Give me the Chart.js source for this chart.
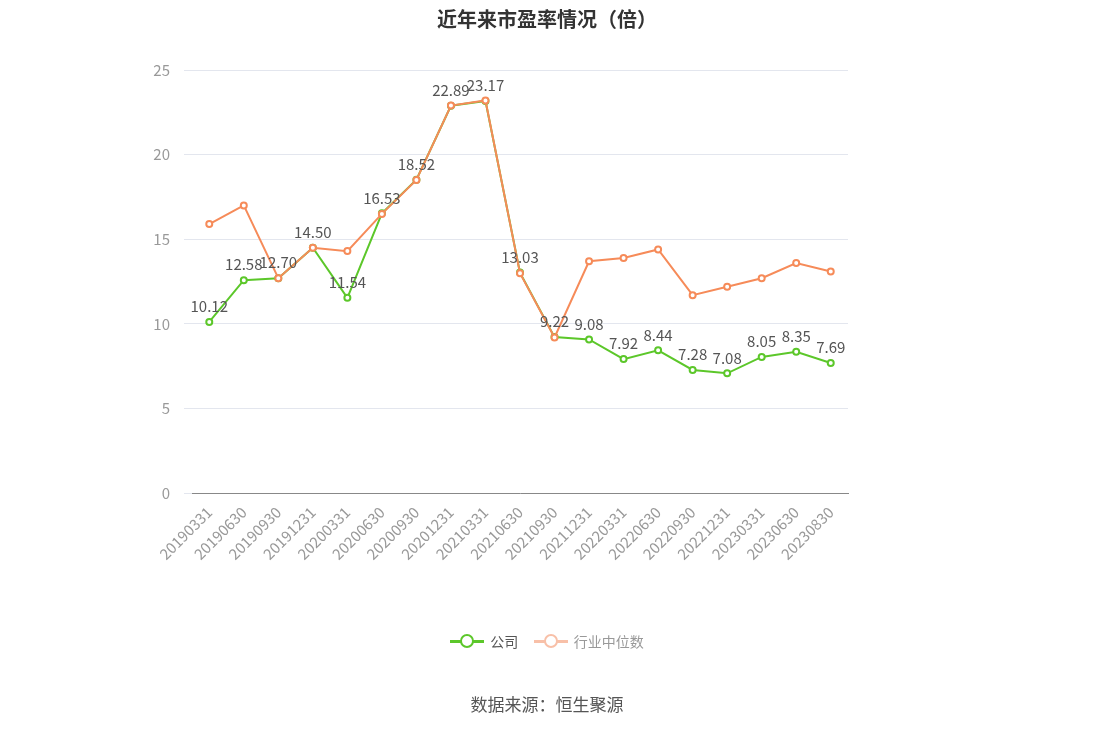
<!DOCTYPE html>
<html><head><meta charset="utf-8">
<script src="https://cdn.jsdelivr.net/npm/chart.js@4/dist/chart.umd.min.js"></script>
<style>body{margin:0;background:#fff;font-family:"Noto Sans CJK SC","Noto Sans",sans-serif}
#w{width:1094px;height:730px;position:relative}
.t{position:absolute;left:0;width:1094px;text-align:center}
.lg{display:inline-flex;align-items:center;margin:0 6px;font-size:14px}
.mk{position:relative;width:34px;height:14px;margin-right:6px}
.mk i{position:absolute;left:0;top:6px;width:34px;height:2.5px}
.mk b{position:absolute;left:10px;top:0;width:10px;height:10px;border-radius:50%;background:#fff;border:2.5px solid}
</style>
</head><body><div id="w"><canvas id="c"></canvas>
<div class="t" style="top:4px;font-size:20px;font-weight:bold;color:#333">近年来市盈率情况（倍）</div>
<div class="t" style="top:629px">
<span class="lg" style="color:#555"><span class="mk"><i style="background:#5cc72a"></i><b style="border-color:#5cc72a"></b></span>公司</span>
<span class="lg" style="color:#999"><span class="mk"><i style="background:#f8c0a8"></i><b style="border-color:#f8c0a8"></b></span>行业中位数</span>
</div>
<div class="t" style="top:691px;font-size:17px;color:#555">数据来源：恒生聚源</div>
</div>
<script>
const categories=["20190331","20190630","20190930","20191231","20200331","20200630","20200930","20201231","20210331","20210630","20210930","20211231","20220331","20220630","20220930","20221231","20230331","20230630","20230830"];
const company=[10.12,12.58,12.70,14.50,11.54,16.53,18.52,22.89,23.17,13.03,9.22,9.08,7.92,8.44,7.28,7.08,8.05,8.35,7.69];
const industry=[15.9,17.0,12.7,14.5,14.3,16.5,18.5,22.9,23.2,13.0,9.2,13.7,13.9,14.4,11.7,12.2,12.7,13.6,13.1];
const yTicks=[0,5,10,15,20,25];
const F='"Noto Sans CJK SC","Noto Sans",sans-serif';
const labelPlugin={id:'lbl',afterDatasetsDraw(ch){const ctx=ch.ctx;const m=ch.getDatasetMeta(0);ctx.save();ctx.font='15px '+F;ctx.fillStyle='#555';ctx.textAlign='center';ctx.textBaseline='bottom';m.data.forEach((p,i)=>ctx.fillText(company[i].toFixed(2),p.x,p.y-8));ctx.restore();}};
new Chart(document.getElementById('c'),{type:'line',data:{labels:categories,datasets:[
{label:'公司',data:company,borderColor:'#5cc72a',backgroundColor:'#fff',borderWidth:2,pointRadius:3,pointBorderWidth:2,pointBorderColor:'#5cc72a',tension:0,order:2},
{label:'行业中位数',data:industry,borderColor:'#f68b59',backgroundColor:'#fff',borderWidth:2,pointRadius:3,pointBorderWidth:2,pointBorderColor:'#f68b59',tension:0,order:1}]},
options:{responsive:true,maintainAspectRatio:false,animation:false,
layout:{padding:{left:150,right:246,top:70,bottom:165}},
plugins:{legend:{display:false},tooltip:{enabled:false}},
scales:{x:{offset:true,grid:{display:false},border:{color:'#888'},ticks:{maxRotation:45,minRotation:45,font:{size:15,family:F},color:'#999',padding:2}},
y:{min:0,max:25,afterBuildTicks(a){a.ticks=yTicks.map(v=>({value:v}));},afterFit(a){a.width=42;},grid:{color:'#e3e6ee'},border:{display:false},ticks:{font:{size:15,family:F},color:'#999',padding:14}}}},
plugins:[labelPlugin]});
</script></body></html>
